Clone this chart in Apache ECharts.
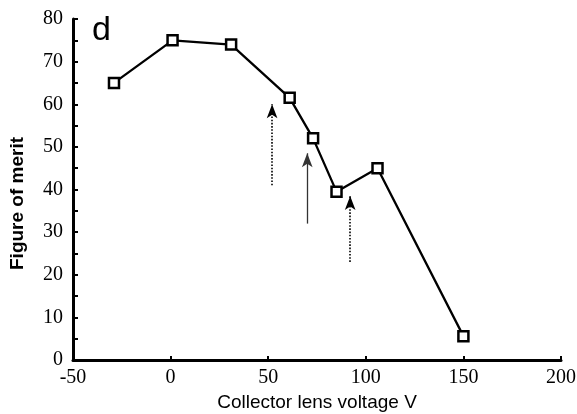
<!DOCTYPE html>
<html><head><meta charset="utf-8">
<script src="https://cdn.jsdelivr.net/npm/echarts@6/dist/echarts.min.js"></script>
<style>html,body{margin:0;padding:0;background:#fff}#c{width:577px;height:414px}</style>
</head><body><div id="c"></div>
<script>
// Data
const voltages = [-29, 1, 31, 61, 73, 85, 106, 150];
const merit = [65, 75, 74, 61.5, 52, 39.5, 45, 5.6];
const xTicks = [-50, 0, 50, 100, 150, 200];
const yTicks = [0, 10, 20, 30, 40, 50, 60, 70, 80];
// Arrows: [x, yStart, yTip, style]
const arrowX = [52, 70, 92];
const arrowFrom = [41, 32, 23];
const arrowTo = [60, 48.5, 38.5];
const arrowStyle = ['dotted', 'solid', 'dotted'];

const chart = echarts.init(document.getElementById('c'));
const arrowData = arrowX.map((x, i) => [
  {coord: [x, arrowFrom[i]], lineStyle: {type: arrowStyle[i], color: arrowStyle[i] === 'solid' ? '#333' : '#000', width: arrowStyle[i] === 'solid' ? 1.3 : 1.6}},
  {coord: [x, arrowTo[i]]}
]);
chart.setOption({
  animation: false,
  grid: {left: 73, right: 16, top: 19, bottom: 54, containLabel: false, outerBoundsMode: 'none'},
  xAxis: {
    type: 'value', min: xTicks[0], max: xTicks[xTicks.length - 1], interval: 50,
    name: 'Collector lens voltage V', nameLocation: 'middle', nameGap: 32,
    nameTextStyle: {fontFamily: 'Liberation Sans', fontSize: 19, color: '#000'},
    axisLine: {onZero: false, lineStyle: {color: '#000', width: 3}},
    axisTick: {inside: true, length: 4, lineStyle: {color: '#000', width: 2}},
    axisLabel: {fontFamily: 'Liberation Serif', fontSize: 20, color: '#000', margin: 8},
    splitLine: {show: false}
  },
  yAxis: {
    type: 'value', min: yTicks[0], max: yTicks[yTicks.length - 1], interval: 10,
    name: 'Figure of merit', nameLocation: 'middle', nameGap: 46, nameRotate: 90,
    nameTextStyle: {fontFamily: 'Liberation Sans', fontSize: 19, fontWeight: 'bold', color: '#000', padding: [0, 28, 0, 0]},
    axisLine: {onZero: false, lineStyle: {color: '#000', width: 3}},
    axisTick: {inside: true, length: 5, lineStyle: {color: '#000', width: 2}},
    minorTick: {show: true, splitNumber: 2, length: 5, lineStyle: {color: '#000', width: 2}},
    axisLabel: {fontFamily: 'Liberation Serif', fontSize: 20, color: '#000', margin: 10},
    splitLine: {show: false}
  },
  graphic: [{
    type: 'text', left: 92, top: 14,
    style: {text: 'd', font: '34px "Liberation Sans"', fill: '#000'}
  }],
  series: [{
    type: 'line', data: voltages.map((v, i) => [v, merit[i]]),
    symbol: 'rect', symbolSize: 10,
    lineStyle: {color: '#000', width: 2.3},
    itemStyle: {color: '#fff', borderColor: '#000', borderWidth: 2.5},
    markLine: {
      silent: true, symbol: ['none', 'arrow'], symbolSize: [8, 14],
      label: {show: false},
      data: arrowData
    }
  }]
});
</script></body></html>
